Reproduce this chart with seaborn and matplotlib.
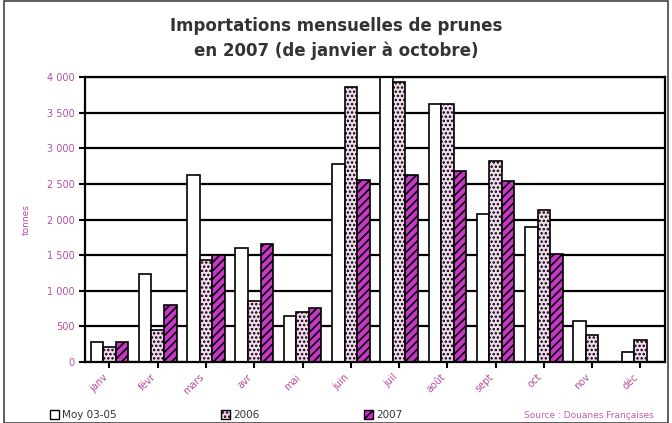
import matplotlib
matplotlib.use("Agg")
import matplotlib.pyplot as plt
import matplotlib.patches as mpatches
import seaborn as sns
import pandas as pd

months = ["janv", "févr", "mars", "avr", "mai", "juin",
          "juil", "août", "sept", "oct", "nov", "déc"]
series = ["Moy 03-05", "2006", "2007"]
moy_03_05 = [280, 1230, 2620, 1600, 640, 2780, 4000, 3620, 2080, 1900, 570, 130]
y2006 = [200, 450, 1430, 850, 700, 3870, 3930, 3620, 2830, 2130, 380, 300]
y2007 = [270, 800, 1500, 1650, 750, 2560, 2620, 2680, 2540, 1520, 0, 0]
yticks = [0, 500, 1000, 1500, 2000, 2500, 3000, 3500, 4000]
ytick_labels = ["0", "500", "1 000", "1 500", "2 000", "2 500", "3 000", "3 500", "4 000"]

df = pd.DataFrame({
    "mois": months * 3,
    "serie": [s for s in series for _ in months],
    "tonnes": moy_03_05 + y2006 + y2007,
})

sns.set_style("white")
plt.rcParams["font.family"] = ["DejaVu Sans"]
plt.rcParams["hatch.color"] = "#5a106a"
plt.rcParams["hatch.linewidth"] = 1.2

fig = plt.figure(figsize=(6.72, 4.23), dpi=100)
ax = fig.add_axes([0.127, 0.145, 0.862, 0.672])

palette = {"Moy 03-05": "#ffffff", "2006": "#fbd6f1", "2007": "#e020e0"}
sns.barplot(data=df, x="mois", y="tonnes", hue="serie", palette=palette,
            width=0.78, edgecolor="black", linewidth=1.2, legend=False, ax=ax)

# motifs des séries
hatches = ["", "....", "////"]
for cont, h in zip(ax.containers, hatches):
    for bar in cont:
        bar.set_hatch(h)

ax.set_ylim(0, 4000)
ax.set_yticks(yticks)
ax.set_yticklabels(ytick_labels, fontsize=7, color="#b2509a")
ax.yaxis.grid(True, color="black", linewidth=1.6)
ax.set_axisbelow(True)
for sp in ax.spines.values():
    sp.set_color("black")
    sp.set_linewidth(1.6)
ax.tick_params(axis="y", length=4, width=1.5, color="black", left=True)
ax.tick_params(axis="x", length=4, width=1.5, color="black", bottom=True)
ax.set_xticks(range(len(months)))
ax.set_xticklabels(months, rotation=45, ha="right", fontsize=7, color="#b2509a")
ax.set_xlabel("")
ax.set_ylabel("tonnes", fontsize=6.5, color="#b2509a", labelpad=12)

fig.suptitle("Importations mensuelles de prunes\nen 2007 (de janvier à octobre)",
             x=0.5, y=0.96, fontsize=12, fontweight="bold", color="#333333",
             linespacing=1.45)

handles = [mpatches.Patch(facecolor=palette[s], edgecolor="black", hatch=h, label=s)
           for s, h in zip(series, hatches)]
fig.legend(handles=handles, loc="lower left", bbox_to_anchor=(0.06, -0.015), ncol=3,
           frameon=False, fontsize=7.5, columnspacing=10, handlelength=0.9,
           handleheight=0.9, handletextpad=0.3, labelcolor="#333333")
fig.text(0.78, 0.012, "Source : Douanes Françaises", fontsize=6.5, color="#c060a0")

fig.patches.append(mpatches.Rectangle((0.006, 0.0), 0.988, 0.998, transform=fig.transFigure,
                                      fill=False, edgecolor="#444444", linewidth=1.2))

fig.savefig("out.png", dpi=100)
